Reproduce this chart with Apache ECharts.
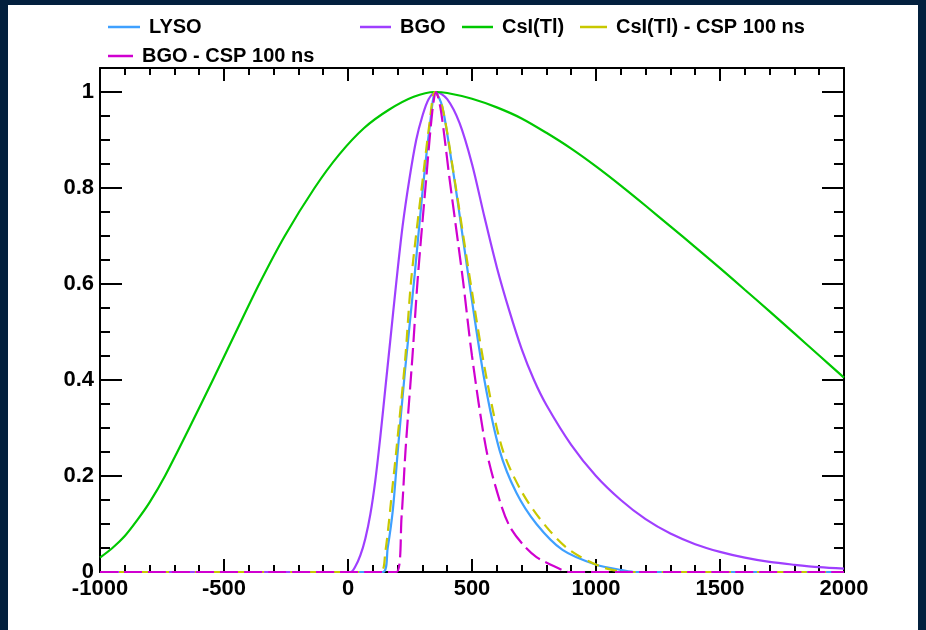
<!DOCTYPE html>
<html>
<head>
<meta charset="utf-8">
<script src="https://cdn.jsdelivr.net/npm/echarts@6/dist/echarts.min.js"></script>
<style>
html,body{margin:0;padding:0;background:#03203e;width:926px;height:630px;overflow:hidden;}
#panel{position:absolute;left:8px;top:5px;width:910px;height:625px;background:#ffffff;}
#chart{position:absolute;left:0;top:0;width:926px;height:630px;}
</style>
</head>
<body>
<div id="panel"></div>
<div id="chart"></div>
<script>
// ---- data: [x, normalised amplitude] ----
const seriesNames = ['LYSO', 'BGO', 'CsI(Tl)', 'CsI(Tl) - CSP 100 ns', 'BGO - CSP 100 ns'];
const xTicks = [-1000, -500, 0, 500, 1000, 1500, 2000];
const yTicks = [0, 0.2, 0.4, 0.6, 0.8, 1];

const lyso = [[-1000,0],[141,0],[160,0.05],[181,0.13],[201,0.254],[230,0.42],[269,0.62],[300,0.79],[330,0.93],[353,1.0],[380,0.97],[410,0.88],[440,0.78],[490,0.6],[550,0.4],[611,0.254],[679,0.165],[760,0.1],[865,0.046],[1001,0.015],[1106,0.004],[1160,0],[2000,0]];
const bgo = [[-1000,0],[10,0],[30,0.012],[50,0.035],[70,0.07],[90,0.12],[110,0.19],[130,0.28],[150,0.38],[170,0.48],[194,0.6],[220,0.72],[248,0.82],[275,0.9],[300,0.95],[325,0.985],[355,1.0],[400,0.985],[450,0.935],[500,0.85],[550,0.74],[600,0.635],[650,0.545],[700,0.465],[750,0.4],[800,0.348],[900,0.265],[1000,0.2],[1100,0.15],[1200,0.11],[1300,0.08],[1400,0.058],[1500,0.042],[1600,0.03],[1700,0.021],[1800,0.015],[1900,0.01],[2000,0.007]];
const csi = [[-1000,0.03],[-950,0.05],[-900,0.075],[-850,0.108],[-800,0.145],[-738,0.2],[-640,0.3],[-545,0.4],[-452,0.5],[-358,0.6],[-255,0.7],[-135,0.8],[-35,0.87],[65,0.925],[165,0.963],[265,0.99],[350,1.0],[400,0.998],[500,0.986],[600,0.968],[700,0.945],[800,0.915],[900,0.882],[1000,0.845],[1100,0.805],[1200,0.763],[1300,0.72],[1400,0.677],[1500,0.633],[1600,0.588],[1700,0.543],[1800,0.497],[1900,0.451],[2000,0.405]];
const csiCsp = [[-1000,0],[128,0],[150,0.04],[181,0.185],[195,0.254],[230,0.44],[255,0.61],[301,0.817],[330,0.94],[350,1.0],[380,0.97],[430,0.817],[495,0.6],[560,0.4],[624,0.254],[704,0.164],[800,0.094],[893,0.046],[1026,0.01],[1134,0],[2000,0]];
const bgoCsp = [[-1000,0],[195,0],[216,0.115],[232,0.254],[260,0.45],[281,0.61],[315,0.817],[340,0.96],[355,1.0],[375,0.96],[410,0.817],[463,0.61],[500,0.45],[558,0.254],[611,0.15],[651,0.096],[704,0.058],[760,0.031],[840,0.01],[893,0],[2000,0]];

const colors = ['#3fa0ff', '#9f3fff', '#00c800', '#c8c800', '#d000d0'];
const dataSets = [lyso, bgo, csi, csiCsp, bgoCsp];
const dashTypes = ['solid', 'solid', 'solid', [12, 7], [18, 6]];

const FONT = '"Liberation Sans", Arial, Helvetica, sans-serif';
const axisLineStyle = {color: '#000', width: 2};

function xAxisDef(pos, showLabel) {
  return {
    type: 'value', position: pos, min: -1000, max: 2000, interval: 500,
    axisLine: {show: true, onZero: false, lineStyle: axisLineStyle},
    axisTick: {show: true, inside: true, length: 13, lineStyle: {color: '#000', width: 2}},
    minorTick: {show: true, splitNumber: 5, length: 7, lineStyle: {color: '#000', width: 2}},
    splitLine: {show: false}, minorSplitLine: {show: false},
    axisLabel: {show: showLabel, color: '#000', fontFamily: FONT, fontWeight: 'bold', fontSize: 22, margin: 6,
      formatter: v => xTicks.indexOf(v) >= 0 ? String(v) : ''}
  };
}
function yAxisDef(pos, major, showLabel) {
  return {
    type: 'value', position: pos, min: 0, max: 1.05, interval: major ? 0.2 : 0.05,
    axisLine: {show: major, onZero: false, lineStyle: axisLineStyle},
    axisTick: {show: true, inside: true, length: major ? 22 : 10, lineStyle: {color: '#000', width: 2}},
    splitLine: {show: false},
    axisLabel: {show: showLabel, color: '#000', fontFamily: FONT, fontWeight: 'bold', fontSize: 22, margin: 6,
      formatter: v => { const t = yTicks.find(k => Math.abs(k - v) < 1e-6); return t === undefined ? '' : String(t); }}
  };
}

const legendPos = [
  {left: 108, top: 17, w: 32},
  {left: 360, top: 17, w: 31},
  {left: 462, top: 17, w: 31},
  {left: 580, top: 17, w: 27},
  {left: 108, top: 46, w: 25}
];

const option = {
  animation: false,
  grid: {left: 100, right: 82, top: 68, bottom: 58, containLabel: false},
  xAxis: [xAxisDef('bottom', true), xAxisDef('top', false)],
  yAxis: [yAxisDef('left', true, true), yAxisDef('left', false, false), yAxisDef('right', true, false), yAxisDef('right', false, false)],
  legend: seriesNames.map((n, i) => ({
    data: [n], left: legendPos[i].left, top: legendPos[i].top, padding: 0,
    icon: 'rect', itemWidth: legendPos[i].w, itemHeight: 2.5,
    selectedMode: false,
    textStyle: {color: '#000', fontFamily: FONT, fontWeight: 'bold', fontSize: 20, padding: [0, 0, 0, 4]}
  })),
  series: seriesNames.map((n, i) => ({
    name: n, type: 'line', xAxisIndex: 0, yAxisIndex: 0,
    data: dataSets[i], showSymbol: false, symbol: 'none',
    smooth: 0.3, clip: false,
    lineStyle: {color: colors[i], width: 2.2, type: dashTypes[i]},
    itemStyle: {color: colors[i]},
    z: 2 + i
  }))
};

const chart = echarts.init(document.getElementById('chart'), null, {renderer: 'canvas'});
chart.setOption(option);
</script>
</body>
</html>
